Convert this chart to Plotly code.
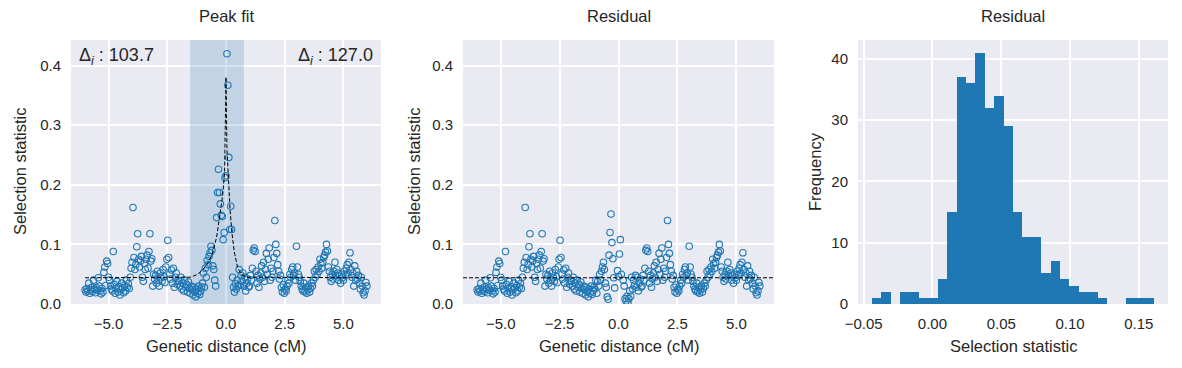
import numpy as np
import plotly.graph_objects as go

# ---------------- data ----------------
# Selection statistic along the chromosome, x from -6.00 to 6.00 cM (step 0.04), read by 1 cM segments
seg_m6 = [0.024, 0.020, 0.026, 0.022, 0.035, 0.018, 0.024, 0.028, 0.021, 0.040, 0.025, 0.019, 0.027,
          0.023, 0.044, 0.030, 0.022, 0.017, 0.026, 0.020, 0.053, 0.062, 0.031, 0.072, 0.068]
seg_m5 = [0.045, 0.040, 0.030, 0.025, 0.022, 0.088, 0.033, 0.018, 0.026, 0.038, 0.020, 0.029, 0.015,
          0.024, 0.035, 0.027, 0.019, 0.031, 0.022, 0.040, 0.028, 0.034, 0.026, 0.045, 0.060]
seg_m4 = [0.070, 0.162, 0.078, 0.058, 0.066, 0.096, 0.118, 0.075, 0.062, 0.072, 0.080, 0.045, 0.038,
          0.068, 0.058, 0.075, 0.082, 0.060, 0.088, 0.118, 0.072, 0.076, 0.030, 0.050, 0.042]
seg_m3 = [0.048, 0.035, 0.055, 0.040, 0.030, 0.052, 0.044, 0.038, 0.058, 0.046, 0.036, 0.062, 0.075,
          0.107, 0.078, 0.050, 0.042, 0.057, 0.035, 0.060, 0.028, 0.045, 0.052, 0.033, 0.040]
seg_m2 = [0.038, 0.030, 0.045, 0.025, 0.035, 0.022, 0.040, 0.028, 0.033, 0.020, 0.037, 0.026, 0.018,
          0.030, 0.024, 0.015, 0.028, 0.020, 0.012, 0.025, 0.018, 0.030, 0.016, 0.022, 0.028]
seg_m1 = [0.035, 0.052, 0.028, 0.060, 0.045, 0.073, 0.066, 0.080, 0.086, 0.097, 0.090, 0.064, 0.058,
          0.040, 0.030, 0.145, 0.187, 0.226, 0.187, 0.168, 0.149, 0.147, 0.108, 0.120, 0.212]
seg_p0 = [0.215, 0.420, 0.367, 0.246, 0.125, 0.164, 0.125, 0.045, 0.028, 0.020, 0.034, 0.025, 0.040,
          0.030, 0.058, 0.032, 0.048, 0.038, 0.052, 0.030, 0.045, 0.022, 0.035, 0.042, 0.028]
seg_p1 = [0.030, 0.048, 0.040, 0.060, 0.090, 0.094, 0.088, 0.055, 0.035, 0.048, 0.028, 0.042, 0.052,
          0.064, 0.045, 0.070, 0.038, 0.058, 0.085, 0.050, 0.075, 0.094, 0.040, 0.060, 0.045]
seg_p2 = [0.055, 0.078, 0.140, 0.100, 0.085, 0.066, 0.055, 0.042, 0.048, 0.028, 0.020, 0.032, 0.018,
          0.025, 0.022, 0.030, 0.040, 0.035, 0.050, 0.045, 0.058, 0.062, 0.048, 0.052, 0.040]
seg_p3 = [0.097, 0.062, 0.050, 0.045, 0.038, 0.030, 0.025, 0.022, 0.035, 0.020, 0.028, 0.018, 0.024,
          0.030, 0.020, 0.026, 0.035, 0.030, 0.040, 0.055, 0.045, 0.058, 0.050, 0.062, 0.055]
seg_p4 = [0.075, 0.068, 0.060, 0.070, 0.078, 0.082, 0.087, 0.100, 0.089, 0.062, 0.055, 0.045, 0.038,
          0.050, 0.042, 0.055, 0.070, 0.048, 0.058, 0.052, 0.040, 0.047, 0.035, 0.050, 0.044]
seg_p5 = [0.040, 0.055, 0.048, 0.060, 0.066, 0.052, 0.070, 0.086, 0.058, 0.045, 0.052, 0.030, 0.064,
          0.040, 0.055, 0.042, 0.048, 0.035, 0.025, 0.045, 0.030, 0.019, 0.015, 0.022, 0.036, 0.030]

# Residuals inside the peak window, x from -1.00 to 0.76 cM (outside it the residual equals the statistic)
residual_window = [0.025, 0.040, 0.018, 0.038, 0.030, 0.050, 0.040, 0.055, 0.062, 0.070,
                   0.058, 0.035, 0.028, 0.012, 0.008, 0.082, 0.120, 0.151, 0.103, 0.076,
                   0.044, 0.027, -0.030, -0.038, 0.056, 0.046, 0.084, 0.108, 0.050, -0.020,
                   0.040, 0.030, 0.009, 0.005, 0.013, 0.002, 0.009, 0.022, 0.013, 0.045,
                   0.025, 0.040, 0.032, 0.048, 0.028]
residual_window_start = -1.00

# Fitted peak curve
fit_x = [-6.0, -1.5, -1.2, -1.0, -0.8, -0.6, -0.4, -0.27, -0.15, -0.06, 0.0,
         0.04, 0.10, 0.17, 0.25, 0.35, 0.49, 0.64, 0.85, 6.0]
fit_y = [0.044, 0.045, 0.050, 0.057, 0.067, 0.082, 0.112, 0.145, 0.180, 0.220, 0.381,
         0.260, 0.200, 0.160, 0.120, 0.088, 0.062, 0.050, 0.045, 0.044]
baseline = 0.044

# Peak window
window_lo, window_hi = -1.53, 0.76
delta_left, delta_right = 103.7, 127.0

# Histogram of residuals (30 bins)
hist_lo, hist_hi = -0.0439, 0.1610
hist_counts = [1, 2, 0, 2, 2, 1, 1, 4, 15, 37, 36, 41, 32, 34, 29,
               15, 11, 11, 5, 7, 4, 3, 2, 2, 1, 0, 0, 1, 1, 1]

# tick labels
dist_ticks = [-5.0, -2.5, 0.0, 2.5, 5.0]
dist_ticktext = ["\u22125.0", "\u22122.5", "0.0", "2.5", "5.0"]
stat_ticks = [0.0, 0.1, 0.2, 0.3, 0.4]
stat_ticktext = ["0.0", "0.1", "0.2", "0.3", "0.4"]
hist_xticks = [-0.05, 0.0, 0.05, 0.10, 0.15]
hist_xticktext = ["\u22120.05", "0.00", "0.05", "0.10", "0.15"]
hist_yticks = [0, 10, 20, 30, 40]

# ---------------- derived ----------------
stat = np.array(seg_m6 + seg_m5 + seg_m4 + seg_m3 + seg_m2 + seg_m1 +
                seg_p0 + seg_p1 + seg_p2 + seg_p3 + seg_p4 + seg_p5)
x_pos = np.round(np.linspace(-6.0, 6.0, len(stat)), 2)
resid = stat.copy()
i0 = int(np.argmin(np.abs(x_pos - residual_window_start)))
resid[i0:i0 + len(residual_window)] = residual_window

edges = np.linspace(hist_lo, hist_hi, len(hist_counts) + 1)
centers = (edges[:-1] + edges[1:]) / 2
bw = edges[1] - edges[0]

# ---------------- figure ----------------
W, H = 1182, 368
C0 = "#1f77b4"
TXT = "#262626"
FONT = "Liberation Sans, Arial, sans-serif"

def px(x):
    return x / W

def py(y):
    return 1 - y / H

ydom = [py(304), py(40)]
dom1 = [px(71), px(381)]
dom2 = [px(463), px(774)]
dom3 = [px(858), px(1168)]

dist_range = [-6.6, 6.6]
stat_range = [0, 0.443]

marker = dict(symbol="circle-open", size=6.5, color=C0, line=dict(width=1.1, color=C0))
dash = "4px,2px"

fig = go.Figure()
# peak window band (drawn first so it sits above the grid but under the points)
fig.add_trace(go.Scatter(x=[window_lo, window_hi, window_hi, window_lo, window_lo],
                         y=[stat_range[0], stat_range[0], stat_range[1], stat_range[1], stat_range[0]],
                         mode="lines", fill="toself", fillcolor="rgba(31,119,180,0.2)",
                         line=dict(width=0, color="rgba(0,0,0,0)"), hoverinfo="skip",
                         xaxis="x", yaxis="y", showlegend=False))
fig.add_trace(go.Scatter(x=x_pos, y=stat, mode="markers", marker=marker,
                         xaxis="x", yaxis="y", showlegend=False))
fig.add_trace(go.Scatter(x=fit_x, y=fit_y, mode="lines",
                         line=dict(color="black", width=1, dash=dash),
                         xaxis="x", yaxis="y", showlegend=False))
fig.add_trace(go.Scatter(x=x_pos, y=resid, mode="markers", marker=marker,
                         xaxis="x2", yaxis="y2", showlegend=False))
fig.add_trace(go.Scatter(x=dist_range, y=[baseline, baseline], mode="lines",
                         line=dict(color="black", width=1, dash=dash),
                         xaxis="x2", yaxis="y2", showlegend=False))
fig.add_trace(go.Bar(x=centers, y=hist_counts, width=bw,
                     marker=dict(color=C0, line=dict(width=0)),
                     xaxis="x3", yaxis="y3", showlegend=False))

axis_common = dict(showgrid=True, gridcolor="white", gridwidth=1.5, zeroline=False,
                   showline=False, ticks="outside", ticklen=6, tickcolor="rgba(0,0,0,0)",
                   automargin=False,
                   tickfont=dict(family=FONT, size=15, color=TXT))

fig.update_layout(
    width=W, height=H, margin=dict(l=0, r=0, t=0, b=0, pad=0, autoexpand=False), autosize=False,
    paper_bgcolor="white", plot_bgcolor="#EAEAF2",
    bargap=0, showlegend=False,
    xaxis=dict(domain=dom1, range=dist_range, tickvals=dist_ticks, ticktext=dist_ticktext,
               anchor="y", **axis_common),
    yaxis=dict(domain=ydom, range=stat_range, tickvals=stat_ticks, ticktext=stat_ticktext,
               anchor="x", **axis_common),
    xaxis2=dict(domain=dom2, range=dist_range, tickvals=dist_ticks, ticktext=dist_ticktext,
                anchor="y2", **axis_common),
    yaxis2=dict(domain=ydom, range=stat_range, tickvals=stat_ticks, ticktext=stat_ticktext,
                anchor="x2", **axis_common),
    xaxis3=dict(domain=dom3, range=[-0.0541, 0.1712], tickvals=hist_xticks, ticktext=hist_xticktext,
                anchor="y3", **axis_common),
    yaxis3=dict(domain=ydom, range=[0, 43.05], tickvals=hist_yticks,
                anchor="x3", **axis_common),
)

def label(text, x, y, size=16.5, angle=0, xanchor="center"):
    fig.add_annotation(text=text, x=px(x), y=py(y), xref="paper", yref="paper",
                       showarrow=False, textangle=angle, xanchor=xanchor, yanchor="middle",
                       font=dict(family=FONT, size=size, color=TXT))

label("Peak fit", 226, 16)
label("Residual", 619, 16)
label("Residual", 1013, 16)
label("Genetic distance (cM)", 226, 346)
label("Genetic distance (cM)", 619, 346)
label("Selection statistic", 1013, 346)
label("Selection statistic", 20, 172, angle=-90)
label("Selection statistic", 414, 172, angle=-90)
label("Frequency", 815, 172, angle=-90)
label("\u0394<sub><i>i</i></sub> : %.1f" % delta_left, 77, 57, size=18, xanchor="left")
label("\u0394<sub><i>i</i></sub> : %.1f" % delta_right, 375, 57, size=18, xanchor="right")

page_css = ("var s=document.createElement('style');"
            "s.textContent='html,body{margin:0;padding:0;overflow:hidden;}';"
            "document.head.appendChild(s);")
fig.write_html("out.html", config={"displayModeBar": False, "responsive": False},
               post_script=page_css)
